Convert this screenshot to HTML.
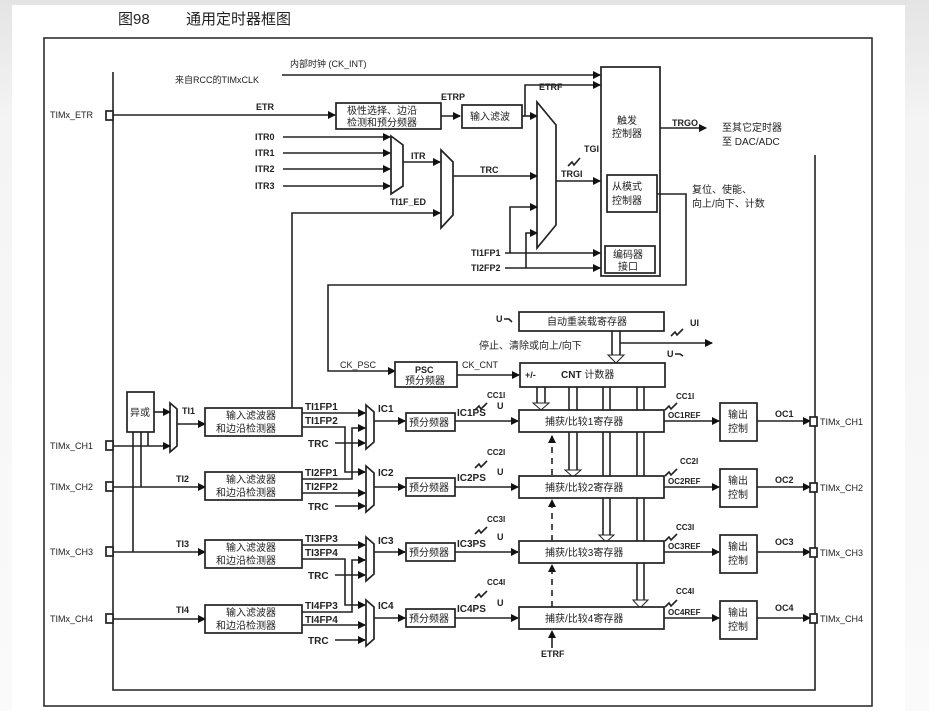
<!DOCTYPE html>
<html><head><meta charset="utf-8"><style>
html,body{margin:0;padding:0;}
body{width:929px;height:711px;background:linear-gradient(#e4e4e4,#f4f4f4 120px,#fafafa);overflow:hidden;}
svg{position:absolute;left:0;top:0;}
text{font-family:"Liberation Sans","Noto Sans CJK SC",sans-serif;font-size:9px;font-weight:bold;fill:#222;}
.cn{font-weight:normal;font-size:10px;}
.b{fill:#fff;stroke:#222;stroke-width:1.7;}
.l{stroke:#222;stroke-width:1.6;fill:none;}
</style></head><body>
<svg width="929" height="711" viewBox="0 0 929 711">
<defs><marker id="a" markerWidth="8" markerHeight="8" refX="7" refY="4" orient="auto" markerUnits="userSpaceOnUse"><path d="M0,0 L8,4 L0,8 z" fill="#111"/></marker></defs>
<rect x="12" y="5" width="893" height="706" fill="#fff"/>
<text x="118" y="24" class="cn" style="font-size:15px">图98</text>
<text x="186" y="24" class="cn" style="font-size:15px">通用定时器框图</text>
<rect x="44" y="38" width="828" height="668" fill="none" stroke="#222" stroke-width="1.5"/>
<path class="l" d="M113,72 V690 H815 V155" stroke-width="2"/>
<text x="290" y="67" class="cn" style="font-size:9px">内部时钟 (CK_INT)</text>
<text x="175" y="83" class="cn" style="font-size:9px">来自RCC的TIMxCLK</text>
<path class="l" d="M282,75 H600" marker-end="url(#a)"/>
<rect class="b" x="601" y="67" width="59" height="209"/>
<text x="617" y="124" class="cn">触发</text><text x="612" y="137" class="cn">控制器</text>
<rect class="b" x="607" y="175" width="50" height="37"/>
<text x="612" y="190" class="cn">从模式</text><text x="612" y="204" class="cn">控制器</text>
<rect class="b" x="605" y="246" width="50" height="27"/>
<text x="613" y="258" class="cn">编码器</text><text x="618" y="270" class="cn">接口</text>
<text x="50" y="118" class="cn" style="font-size:9px">TIMx_ETR</text>
<rect class="b" x="106" y="111" width="7" height="9"/>
<path class="l" d="M113,115 H335" marker-end="url(#a)"/>
<text x="256" y="110">ETR</text>
<rect class="b" x="336" y="103" width="105" height="26"/>
<text x="347" y="114" class="cn">极性选择、边沿</text><text x="347" y="126" class="cn">检测和预分频器</text>
<text x="441" y="100">ETRP</text>
<path class="l" d="M441,116 H460" marker-end="url(#a)"/>
<rect class="b" x="462" y="105" width="60" height="23"/>
<text x="470" y="120" class="cn">输入滤波</text>
<path class="l" d="M522,116 H537" marker-end="url(#a)"/>
<path class="l" d="M525,116 V85 H600" marker-end="url(#a)"/>
<text x="539" y="90">ETRF</text>
<polygon class="b" points="537,102 556,125 556,225 537,248"/>
<g class="l">
<path d="M283,137 H390" marker-end="url(#a)"/><path d="M283,153 H390" marker-end="url(#a)"/>
<path d="M283,169 H390" marker-end="url(#a)"/><path d="M283,186 H390" marker-end="url(#a)"/>
</g>
<text x="255" y="140">ITR0</text><text x="255" y="156">ITR1</text><text x="255" y="172">ITR2</text><text x="255" y="189">ITR3</text>
<polygon class="b" points="391,136 403,145 403,186 391,194"/>
<path class="l" d="M403,162 H440" marker-end="url(#a)"/><text x="411" y="159">ITR</text>
<polygon class="b" points="441,150 453,162 453,215 441,228"/>
<path class="l" d="M453,176 H537" marker-end="url(#a)"/><text x="480" y="173">TRC</text>
<text x="390" y="205">TI1F_ED</text>
<path class="l" d="M292,408 V213 H440" marker-end="url(#a)"/>
<path class="l" d="M556,181 H600" marker-end="url(#a)"/><text x="561" y="177">TRGI</text>
<text x="584" y="152">TGI</text><path class="l" d="M568,166 l4,-4 l2,3 l6,-7" stroke-width="1"/>
<path class="l" d="M505,253 H600" marker-end="url(#a)"/><path class="l" d="M505,268 H600" marker-end="url(#a)"/>
<text x="471" y="256">TI1FP1</text><text x="471" y="271">TI2FP2</text>
<path class="l" d="M510,253 V207 H537" marker-end="url(#a)"/>
<path class="l" d="M526,268 V233 H537" marker-end="url(#a)"/>
<path class="l" d="M660,128 H706" marker-end="url(#a)" stroke-width="2"/><text x="672" y="126">TRGO</text>
<text x="722" y="131" class="cn">至其它定时器</text><text x="722" y="145" class="cn">至 DAC/ADC</text>
<path class="l" d="M657,194 H686 V285 H328 V371 H395" marker-end="url(#a)"/>
<text x="692" y="193" class="cn">复位、使能、</text><text x="692" y="207" class="cn">向上/向下、计数</text>
<rect class="b" x="519" y="312" width="145" height="19"/>
<text x="547" y="325" class="cn">自动重装载寄存器</text>
<text x="496" y="322">U</text><path class="l" d="M504,319 l5,0 l3,3" stroke-width="1"/>
<path class="l" d="M612,331 V355 M620,331 V355" stroke-width="1.2"/><path d="M608,355 L616,363 L624,355 z" fill="#fff" stroke="#222"/>
<text x="479" y="349" class="cn">停止、清除或向上/向下</text>
<path class="l" d="M620,343 H712" marker-end="url(#a)"/>
<text x="690" y="326">UI</text><path class="l" d="M671,336 l4,-4 l2,3 l6,-6" stroke-width="1"/>
<text x="667" y="357">U</text><path class="l" d="M675,354 l5,0 l3,2" stroke-width="1"/>
<text x="340" y="368" style="font-weight:normal">CK_PSC</text>
<rect class="b" x="395" y="362" width="62" height="25"/>
<text x="415" y="373">PSC</text><text x="405" y="384" class="cn">预分频器</text>
<path class="l" d="M457,375 H519" marker-end="url(#a)"/><text x="462" y="368" style="font-weight:normal">CK_CNT</text>
<rect class="b" x="520" y="363" width="145" height="24"/>
<text x="525" y="378">+/-</text><text x="561" y="378" style="font-size:10px">CNT <tspan class="cn">计数器</tspan></text>
<g class="l" stroke-width="1.3">
<path d="M537,387 V403 M545,387 V403"/><path d="M569,387 V470 M577,387 V470"/>
<path d="M603,387 V535 M610,387 V535"/><path d="M637,387 V600 M644,387 V600"/>
</g>
<g fill="#fff" stroke="#222"><path d="M533,403 L541,410 L549,403z"/><path d="M565,470 L573,477 L581,470z"/><path d="M599,535 L606,542 L614,535z"/><path d="M633,600 L640,608 L648,600z"/></g>
<path class="l" d="M552,640 V436" stroke-dasharray="6,5"/>
<g fill="#111"><path d="M548,443 L552,435 L556,443z"/><path d="M548,507 L552,499 L556,507z"/><path d="M548,572 L552,564 L556,572z"/><path d="M548,638 L552,630 L556,638z"/></g>
<path class="l" d="M552,648 V640"/><text x="541" y="657">ETRF</text>
<rect class="b" x="127" y="392" width="27" height="40"/><text x="130" y="416" class="cn">异或</text>
<polygon class="b" points="170,403 177,409 177,446 170,452"/>
<path class="l" d="M154,412 H170" marker-end="url(#a)"/>
<path class="l" d="M113,446 H170" marker-end="url(#a)"/>
<path class="l" d="M133,432 V552 M141,432 V487 M148,432 V446"/>
<path class="l" d="M177,424 H205" marker-end="url(#a)"/><text x="182" y="414">TI1</text>
<path class="l" d="M113,487 H205" marker-end="url(#a)"/><text x="176" y="482">TI2</text>
<path class="l" d="M113,552 H205" marker-end="url(#a)"/><text x="176" y="547">TI3</text>
<path class="l" d="M113,619 H205" marker-end="url(#a)"/><text x="176" y="613">TI4</text>
<g class="b"><rect x="106" y="441" width="7" height="9"/><rect x="106" y="482" width="7" height="9"/><rect x="106" y="547" width="7" height="9"/><rect x="106" y="614" width="7" height="9"/></g>
<text x="50" y="449" class="cn" style="font-size:9px">TIMx_CH1</text><text x="50" y="490" class="cn" style="font-size:9px">TIMx_CH2</text>
<text x="50" y="555" class="cn" style="font-size:9px">TIMx_CH3</text><text x="50" y="622" class="cn" style="font-size:9px">TIMx_CH4</text>
<g>
<rect class="b" x="205" y="408" width="97" height="28"/>
<text x="226" y="419" class="cn">输入滤波器</text><text x="216" y="432" class="cn">和边沿检测器</text>
<path class="l" d="M302,413 H365" marker-end="url(#a)"/><path class="l" d="M302,427 H345 V472 H365" marker-end="url(#a)"/>
<path class="l" d="M335,443 H365" marker-end="url(#a)"/>
<text x="305" y="410" style="font-size:10px">TI1FP1</text><text x="305" y="424" style="font-size:10px">TI1FP2</text><text x="308" y="447" style="font-size:10px">TRC</text>
<polygon class="b" points="366,405 374,412 374,442 366,449"/>
<path class="l" d="M374,421 H405" marker-end="url(#a)"/><text x="378" y="412" style="font-size:10px">IC1</text>
<rect class="b" x="406" y="413" width="49" height="18"/><text x="409" y="426" class="cn">预分频器</text>
<path class="l" d="M455,421 H518" marker-end="url(#a)"/><text x="457" y="416" style="font-size:10px">IC1PS</text>
<rect class="b" x="519" y="410" width="145" height="22"/><text x="545" y="425" class="cn">捕获/比较1寄存器</text>
<text x="497" y="409">U</text><text x="487" y="398" style="font-size:8px">CC1I</text><path class="l" d="M475,410 l4,-4 l2,3 l6,-6" stroke-width="1"/>
<path class="l" d="M664,421 H719" marker-end="url(#a)"/><text x="668" y="418" style="font-size:8px">OC1REF</text>
<text x="676" y="399" style="font-size:8px">CC1I</text><path class="l" d="M665,410 l4,-4 l2,3 l6,-6" stroke-width="1"/>
<rect class="b" x="720" y="403" width="37" height="38"/><text x="728" y="418" class="cn">输出</text><text x="728" y="432" class="cn">控制</text>
<path class="l" d="M757,421 H810" marker-end="url(#a)"/><text x="775" y="417">OC1</text>
<rect class="b" x="810" y="417" width="7" height="9"/><text x="820" y="425" class="cn" style="font-size:9px">TIMx_CH1</text>
</g>
<g>
<rect class="b" x="205" y="472" width="97" height="28"/>
<text x="226" y="483" class="cn">输入滤波器</text><text x="216" y="496" class="cn">和边沿检测器</text>
<path class="l" d="M302,479 H352 V428 H365" marker-end="url(#a)"/><path class="l" d="M302,493 H365" marker-end="url(#a)"/>
<path class="l" d="M335,506 H365" marker-end="url(#a)"/>
<text x="305" y="476" style="font-size:10px">TI2FP1</text><text x="305" y="490" style="font-size:10px">TI2FP2</text><text x="308" y="510" style="font-size:10px">TRC</text>
<polygon class="b" points="366,466 374,473 374,505 366,512"/>
<path class="l" d="M374,487 H405" marker-end="url(#a)"/><text x="378" y="476" style="font-size:10px">IC2</text>
<rect class="b" x="406" y="478" width="49" height="18"/><text x="409" y="491" class="cn">预分频器</text>
<path class="l" d="M455,487 H518" marker-end="url(#a)"/><text x="457" y="481" style="font-size:10px">IC2PS</text>
<rect class="b" x="519" y="476" width="145" height="22"/><text x="545" y="491" class="cn">捕获/比较2寄存器</text>
<text x="497" y="475">U</text><text x="487" y="455" style="font-size:8px">CC2I</text><path class="l" d="M475,468 l4,-4 l2,3 l6,-6" stroke-width="1"/>
<path class="l" d="M664,487 H719" marker-end="url(#a)"/><text x="668" y="484" style="font-size:8px">OC2REF</text>
<text x="680" y="464" style="font-size:8px">CC2I</text><path class="l" d="M665,476 l4,-4 l2,3 l6,-6" stroke-width="1"/>
<rect class="b" x="720" y="469" width="37" height="38"/><text x="728" y="484" class="cn">输出</text><text x="728" y="498" class="cn">控制</text>
<path class="l" d="M757,487 H810" marker-end="url(#a)"/><text x="775" y="483">OC2</text>
<rect class="b" x="810" y="483" width="7" height="9"/><text x="820" y="491" class="cn" style="font-size:9px">TIMx_CH2</text>
</g>
<g>
<rect class="b" x="205" y="540" width="97" height="28"/>
<text x="226" y="551" class="cn">输入滤波器</text><text x="216" y="564" class="cn">和边沿检测器</text>
<path class="l" d="M302,545 H365" marker-end="url(#a)"/><path class="l" d="M302,559 H345 V605 H365" marker-end="url(#a)"/>
<path class="l" d="M335,575 H365" marker-end="url(#a)"/>
<text x="305" y="542" style="font-size:10px">TI3FP3</text><text x="305" y="556" style="font-size:10px">TI3FP4</text><text x="308" y="579" style="font-size:10px">TRC</text>
<polygon class="b" points="366,537 374,544 374,574 366,581"/>
<path class="l" d="M374,552 H405" marker-end="url(#a)"/><text x="378" y="544" style="font-size:10px">IC3</text>
<rect class="b" x="406" y="543" width="49" height="18"/><text x="409" y="556" class="cn">预分频器</text>
<path class="l" d="M455,552 H518" marker-end="url(#a)"/><text x="457" y="547" style="font-size:10px">IC3PS</text>
<rect class="b" x="519" y="541" width="145" height="22"/><text x="545" y="556" class="cn">捕获/比较3寄存器</text>
<text x="497" y="540">U</text><text x="487" y="522" style="font-size:8px">CC3I</text><path class="l" d="M475,534 l4,-4 l2,3 l6,-6" stroke-width="1"/>
<path class="l" d="M664,552 H719" marker-end="url(#a)"/><text x="668" y="549" style="font-size:8px">OC3REF</text>
<text x="676" y="530" style="font-size:8px">CC3I</text><path class="l" d="M665,541 l4,-4 l2,3 l6,-6" stroke-width="1"/>
<rect class="b" x="720" y="535" width="37" height="38"/><text x="728" y="550" class="cn">输出</text><text x="728" y="564" class="cn">控制</text>
<path class="l" d="M757,552 H810" marker-end="url(#a)"/><text x="775" y="545">OC3</text>
<rect class="b" x="810" y="548" width="7" height="9"/><text x="820" y="556" class="cn" style="font-size:9px">TIMx_CH3</text>
</g>
<g>
<rect class="b" x="205" y="605" width="97" height="28"/>
<text x="226" y="616" class="cn">输入滤波器</text><text x="216" y="629" class="cn">和边沿检测器</text>
<path class="l" d="M302,612 H352 V560 H365" marker-end="url(#a)"/><path class="l" d="M302,625 H365" marker-end="url(#a)"/>
<path class="l" d="M335,640 H365" marker-end="url(#a)"/>
<text x="305" y="609" style="font-size:10px">TI4FP3</text><text x="305" y="623" style="font-size:10px">TI4FP4</text><text x="308" y="644" style="font-size:10px">TRC</text>
<polygon class="b" points="366,600 374,607 374,639 366,646"/>
<path class="l" d="M374,618 H405" marker-end="url(#a)"/><text x="378" y="609" style="font-size:10px">IC4</text>
<rect class="b" x="406" y="609" width="49" height="18"/><text x="409" y="622" class="cn">预分频器</text>
<path class="l" d="M455,618 H518" marker-end="url(#a)"/><text x="457" y="612" style="font-size:10px">IC4PS</text>
<rect class="b" x="519" y="607" width="145" height="22"/><text x="545" y="622" class="cn">捕获/比较4寄存器</text>
<text x="497" y="606">U</text><text x="487" y="585" style="font-size:8px">CC4I</text><path class="l" d="M475,598 l4,-4 l2,3 l6,-6" stroke-width="1"/>
<path class="l" d="M664,618 H719" marker-end="url(#a)"/><text x="668" y="615" style="font-size:8px">OC4REF</text>
<text x="676" y="594" style="font-size:8px">CC4I</text><path class="l" d="M665,607 l4,-4 l2,3 l6,-6" stroke-width="1"/>
<rect class="b" x="720" y="601" width="37" height="38"/><text x="728" y="616" class="cn">输出</text><text x="728" y="630" class="cn">控制</text>
<path class="l" d="M757,618 H810" marker-end="url(#a)"/><text x="775" y="611">OC4</text>
<rect class="b" x="810" y="614" width="7" height="9"/><text x="820" y="622" class="cn" style="font-size:9px">TIMx_CH4</text>
</g>
</svg>
</body></html>
